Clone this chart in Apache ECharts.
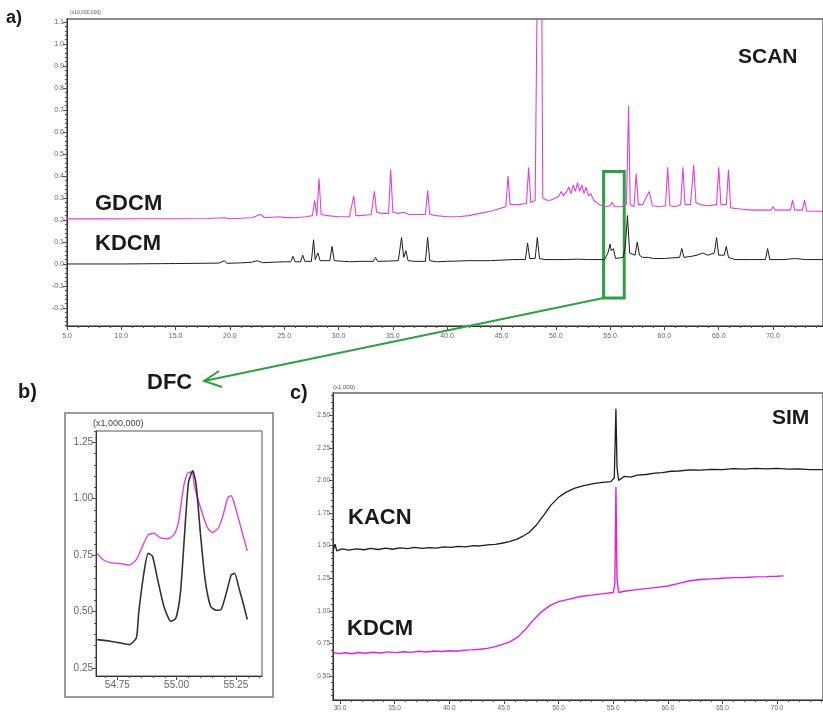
<!DOCTYPE html>
<html><head><meta charset="utf-8">
<script src="https://cdn.jsdelivr.net/npm/echarts@6/dist/echarts.min.js"></script>
<style>html,body{margin:0;padding:0;background:#fff}#c{width:823px;height:714px}</style>
</head><body><div id="c"></div>
<script>
// ---------- tick labels ----------
const aXTicks = [5,10,15,20,25,30,35,40,45,50,55,60,65,70];
const aYTicks = [-0.2,-0.1,0,0.1,0.2,0.3,0.4,0.5,0.6,0.7,0.8,0.9,1.0,1.1];
const bXTicks = [54.75,55.0,55.25];
const bYTicks = [0.25,0.5,0.75,1.0,1.25];
const cXTicks = [30,35,40,45,50,55,60,65,70];
const cYTicks = [0.5,0.75,1.0,1.25,1.5,1.75,2.0,2.25,2.5];

// ---------- panel a: SCAN (x10,000,000) ----------
const gdcmScan = [[5.0,0.205],[8,0.205],[12,0.206],[15,0.206],[18,0.207],[19.5,0.21],[20,0.206],[22,0.21],[22.8,0.225],[23.2,0.21],[24.5,0.215],[25,0.212],[26,0.21],[27,0.215],[27.6,0.22],[27.8,0.29],[28.0,0.22],[28.2,0.39],[28.4,0.225],[29,0.22],[30,0.215],[31.0,0.215],[31.4,0.31],[31.6,0.22],[32,0.22],[33.0,0.225],[33.3,0.33],[33.5,0.235],[34.0,0.23],[34.6,0.23],[34.8,0.43],[35.0,0.235],[35.5,0.23],[36,0.235],[36.5,0.225],[37,0.225],[38.0,0.225],[38.2,0.335],[38.4,0.225],[39,0.22],[40,0.215],[41,0.215],[42,0.22],[43,0.23],[44,0.24],[45,0.255],[45.4,0.26],[45.6,0.40],[45.8,0.27],[46.5,0.27],[47.3,0.275],[47.5,0.44],[47.7,0.28],[48.1,0.29],[48.3,1.3],[48.4,1.3],[48.5,1.3],[48.6,1.3],[48.7,1.3],[48.8,0.30],[49.2,0.29],[49.5,0.29],[50,0.3],[50.3,0.31],[50.5,0.33],[50.7,0.31],[51,0.33],[51.2,0.35],[51.4,0.32],[51.6,0.36],[51.8,0.33],[52,0.37],[52.2,0.33],[52.4,0.36],[52.6,0.32],[52.8,0.35],[53,0.31],[53.2,0.32],[53.5,0.29],[54,0.27],[54.5,0.26],[55,0.265],[55.2,0.28],[55.4,0.26],[56,0.26],[56.5,0.27],[56.7,0.72],[56.85,0.27],[57.2,0.26],[57.4,0.41],[57.6,0.27],[58,0.27],[58.6,0.33],[58.9,0.265],[59.5,0.26],[60.1,0.265],[60.3,0.44],[60.5,0.265],[61,0.26],[61.5,0.27],[61.7,0.44],[61.9,0.27],[62.4,0.27],[62.7,0.45],[62.9,0.28],[63.3,0.27],[64.0,0.265],[64.8,0.27],[65.0,0.44],[65.2,0.27],[65.7,0.27],[65.9,0.43],[66.1,0.255],[67,0.25],[68,0.245],[69,0.245],[69.8,0.245],[70,0.26],[70.2,0.245],[71,0.245],[71.6,0.245],[71.8,0.29],[72.0,0.245],[72.7,0.245],[72.9,0.29],[73.1,0.24],[74.6,0.24]];
const kdcmScan = [[5,0.0],[10,0.0],[15,0.002],[19,0.004],[19.5,0.015],[19.7,0.003],[21,0.005],[22,0.008],[22.5,0.015],[23,0.006],[24,0.008],[25,0.01],[25.6,0.01],[25.8,0.035],[26.0,0.01],[26.5,0.01],[26.7,0.04],[26.9,0.012],[27.5,0.012],[27.7,0.11],[27.85,0.02],[28.1,0.05],[28.3,0.015],[29.2,0.015],[29.4,0.08],[29.6,0.015],[30.5,0.012],[31,0.01],[32,0.012],[33.2,0.012],[33.4,0.03],[33.6,0.012],[34.5,0.013],[35.5,0.015],[35.8,0.12],[36.0,0.03],[36.2,0.06],[36.4,0.015],[37,0.012],[38.0,0.012],[38.2,0.12],[38.4,0.015],[39,0.01],[40,0.012],[42,0.015],[44,0.015],[46,0.02],[47.2,0.02],[47.4,0.095],[47.6,0.025],[48.1,0.025],[48.3,0.12],[48.5,0.025],[49,0.02],[50,0.02],[51,0.02],[52,0.022],[53,0.02],[54.5,0.02],[54.8,0.05],[55.0,0.09],[55.1,0.06],[55.3,0.07],[55.5,0.025],[56.2,0.03],[56.4,0.08],[56.6,0.22],[56.8,0.05],[57.3,0.04],[57.5,0.1],[57.7,0.04],[58,0.03],[58.5,0.03],[59,0.025],[60,0.025],[61.4,0.03],[61.6,0.07],[61.8,0.03],[62.5,0.035],[63,0.04],[63.5,0.05],[64,0.04],[64.6,0.05],[64.8,0.12],[65.0,0.04],[65.5,0.04],[65.7,0.08],[65.9,0.03],[66.5,0.02],[68,0.02],[69.3,0.02],[69.5,0.07],[69.7,0.02],[71,0.02],[72,0.025],[73,0.02],[74.6,0.02]];
const dfcBox = [[54.4,0.42],[56.3,-0.155]];

// ---------- panel b: DFC (x1,000,000) ----------
const gdcmDfc = [[54.665,0.758],[54.69,0.73],[54.72,0.717],[54.757,0.714],[54.80,0.706],[54.83,0.73],[54.856,0.79],[54.88,0.84],[54.905,0.847],[54.93,0.828],[54.96,0.823],[54.98,0.832],[54.997,0.857],[55.01,0.91],[55.03,1.057],[55.047,1.114],[55.065,1.117],[55.075,1.057],[55.09,0.998],[55.11,0.93],[55.13,0.872],[55.15,0.85],[55.177,0.872],[55.195,0.924],[55.216,1.005],[55.23,1.013],[55.25,0.954],[55.273,0.865],[55.298,0.769]];
const kdcmDfc = [[54.665,0.376],[54.72,0.369],[54.764,0.361],[54.80,0.354],[54.83,0.383],[54.84,0.494],[54.86,0.657],[54.88,0.758],[54.898,0.746],[54.92,0.642],[54.948,0.517],[54.976,0.457],[54.997,0.472],[55.016,0.583],[55.032,0.82],[55.05,1.072],[55.068,1.124],[55.082,1.065],[55.10,0.85],[55.12,0.643],[55.143,0.524],[55.167,0.506],[55.188,0.51],[55.209,0.581],[55.23,0.662],[55.244,0.67],[55.265,0.596],[55.284,0.524],[55.298,0.465]];

// ---------- panel c: SIM (x1,000) ----------
const kacnSim = [[29.4,1.47],[29.55,1.51],[29.7,1.46],[30.2,1.475],[30.8,1.465],[31.5,1.475],[32.2,1.468],[32.8,1.478],[33.5,1.47],[34.2,1.48],[34.8,1.472],[35.5,1.482],[36.2,1.476],[36.8,1.486],[37.5,1.479],[38.2,1.485],[38.8,1.48],[39.5,1.49],[40.2,1.486],[40.8,1.494],[41.5,1.49],[42.2,1.5],[42.8,1.497],[43.5,1.505],[44.2,1.51],[44.8,1.518],[45.5,1.53],[46.2,1.55],[46.8,1.575],[47.3,1.60],[48.0,1.66],[48.7,1.74],[49.3,1.81],[50.0,1.87],[50.7,1.91],[51.5,1.94],[52.3,1.96],[53.2,1.975],[54.0,1.985],[54.8,1.99],[55.1,2.02],[55.25,2.55],[55.35,2.1],[55.5,2.0],[56.0,2.03],[56.6,2.025],[57.2,2.04],[58.0,2.045],[58.8,2.055],[59.5,2.06],[60.3,2.07],[61.0,2.072],[62.0,2.08],[63.0,2.078],[64.0,2.085],[65.0,2.083],[66,2.09],[67,2.087],[68,2.092],[69,2.088],[70,2.092],[71,2.086],[72,2.088],[73,2.082],[74.2,2.083]];
const kdcmSim = [[29.4,0.68],[29.9,0.672],[30.5,0.678],[31.1,0.671],[31.7,0.68],[32.3,0.674],[33,0.682],[33.7,0.676],[34.4,0.685],[35.1,0.679],[35.8,0.686],[36.5,0.681],[37.2,0.69],[37.9,0.684],[38.6,0.692],[39.3,0.688],[40.0,0.694],[40.7,0.69],[41.4,0.698],[42,0.70],[42.8,0.705],[43.5,0.712],[44.2,0.725],[44.8,0.74],[45.5,0.76],[46.3,0.80],[47.0,0.86],[47.7,0.93],[48.4,0.99],[49.2,1.04],[50.0,1.07],[51,1.09],[52,1.11],[53,1.12],[54,1.13],[55.0,1.14],[55.15,1.2],[55.25,1.95],[55.35,1.25],[55.5,1.14],[56,1.15],[57,1.16],[58,1.17],[59,1.18],[60,1.19],[61,1.21],[62,1.23],[63,1.24],[64,1.245],[65,1.25],[66,1.254],[67,1.255],[68,1.26],[69,1.262],[70,1.265],[70.6,1.268]];

function steps(a, b, s) { const r = []; for (let v = a; v <= b + 1e-9; v += s) r.push(+v.toFixed(4)); return r; }

const FONT = 'Liberation Sans, Arial, sans-serif';

function axisPair(gridIndex, position, min, max, major, minorStep, fmt, fs, margin) {
  const majorAxis = {
    type: 'value', gridIndex, position, min, max,
    axisLine: { show: true, onZero: false, lineStyle: { color: '#333', width: 1 } },
    axisTick: { show: true, customValues: major, length: 4, lineStyle: { color: '#444' } },
    axisLabel: { show: true, customValues: major, formatter: fmt, fontSize: fs, color: '#666', margin: margin, fontFamily: FONT },
    splitLine: { show: false }
  };
  const minorAxis = {
    type: 'value', gridIndex, position, min, max,
    axisLine: { show: false, onZero: false },
    axisTick: { show: true, customValues: steps(Math.ceil(min / minorStep) * minorStep, max, minorStep), length: 2, lineStyle: { color: '#555' } },
    axisLabel: { show: false },
    splitLine: { show: false }
  };
  return [majorAxis, minorAxis];
}

const f1 = v => v.toFixed(1);
const f2 = v => v.toFixed(2);

const xAxes = [
  ...axisPair(0, 'bottom', 5, 74.6, aXTicks, 1, f1, 7, 7),
  ...axisPair(1, 'bottom', 54.66, 55.36, bXTicks, 0.05, f2, 10, 4),
  ...axisPair(2, 'bottom', 29.36, 74.2, cXTicks, 1, f1, 6.5, 5)
];
const yAxes = [
  ...axisPair(0, 'left', -0.282, 1.114, aYTicks, 0.02, f1, 7, 3),
  ...axisPair(1, 'left', 0.215, 1.30, bYTicks, 0.05, f2, 10, 3),
  ...axisPair(2, 'left', 0.316, 2.67, cYTicks, 0.05, f2, 6.5, 3)
];

const PINK = '#e040e0';
const BLACK = '#1e1e1e';

const chart = echarts.init(document.getElementById('c'), null, { renderer: 'canvas' });
const option = {
  animation: false,
  backgroundColor: '#fff',
  grid: [
    { left: 67, top: 19, width: 760, height: 307, show: true, borderColor: '#666', borderWidth: 1.5, containLabel: false },
    { left: 96, top: 431, width: 166, height: 245, show: true, borderColor: '#555', borderWidth: 1, containLabel: false },
    { left: 333, top: 393, width: 495, height: 307, show: true, borderColor: '#666', borderWidth: 1.5, containLabel: false }
  ],
  xAxis: xAxes,
  yAxis: yAxes,
  series: [
    { name: 'GDCM', type: 'line', xAxisIndex: 0, yAxisIndex: 0, data: gdcmScan, showSymbol: false, lineStyle: { color: PINK, width: 1.1 }, clip: true,
      markArea: { silent: true, itemStyle: { color: 'rgba(0,0,0,0)', borderColor: '#2ea043', borderWidth: 3 },
        data: [[{ coord: dfcBox[0] }, { coord: dfcBox[1] }]] } },
    { name: 'KDCM', type: 'line', xAxisIndex: 0, yAxisIndex: 0, data: kdcmScan, showSymbol: false, lineStyle: { color: BLACK, width: 1 }, clip: true },
    { name: 'GDCM-DFC', type: 'line', xAxisIndex: 2, yAxisIndex: 2, data: gdcmDfc, showSymbol: false, smooth: 0.2, lineStyle: { color: PINK, width: 1.4 } },
    { name: 'KDCM-DFC', type: 'line', xAxisIndex: 2, yAxisIndex: 2, data: kdcmDfc, showSymbol: false, smooth: 0.2, lineStyle: { color: '#333', width: 1.6 } },
    { name: 'KACN', type: 'line', xAxisIndex: 4, yAxisIndex: 4, data: kacnSim, showSymbol: false, lineStyle: { color: BLACK, width: 1.3 } },
    { name: 'KDCM-SIM', type: 'line', xAxisIndex: 4, yAxisIndex: 4, data: kdcmSim, showSymbol: false, lineStyle: { color: '#e020e0', width: 1.4 } }
  ]
};
chart.setOption(option);

// annotation arrow from the DFC box to the DFC label
const start = chart.convertToPixel({ xAxisIndex: 0, yAxisIndex: 0 }, [dfcBox[0][0], dfcBox[1][1]]);
const tip = [204, 381];
const GREEN = '#2ea043';
const txt = (x, y, s, size, extra) => Object.assign({ type: 'text', x, y, style: { text: s, font: 'bold ' + size + 'px ' + FONT, fill: '#1a1a1a', textVerticalAlign: 'middle' }, z: 10 }, extra || {});
chart.setOption({
  graphic: [
    { type: 'rect', shape: { x: 65, y: 413, width: 208, height: 284 }, style: { fill: 'none', stroke: '#9a9a9a', lineWidth: 2 }, z: -1 },
    { type: 'line', shape: { x1: start[0], y1: start[1], x2: tip[0], y2: tip[1] }, style: { stroke: GREEN, lineWidth: 2 }, z: 10 },
    { type: 'polyline', shape: { points: [[219, 371], tip, [222, 387]] }, style: { stroke: GREEN, lineWidth: 2, fill: 'none' }, z: 10 },
    txt(6, 18, 'a)', 18),
    txt(18, 392, 'b)', 20),
    txt(290, 393, 'c)', 20),
    txt(738, 57, 'SCAN', 21),
    txt(95, 204, 'GDCM', 22),
    txt(95, 244, 'KDCM', 22),
    txt(147, 383, 'DFC', 22),
    txt(772, 418, 'SIM', 21),
    txt(348, 518, 'KACN', 22),
    txt(347, 629, 'KDCM', 22),
    { type: 'text', x: 70, y: 13, style: { text: '(x10,000,000)', font: '5px ' + FONT, fill: '#555', textVerticalAlign: 'middle' } },
    { type: 'text', x: 93, y: 424, style: { text: '(x1,000,000)', font: '9px ' + FONT, fill: '#444', textVerticalAlign: 'middle' } },
    { type: 'text', x: 333, y: 387, style: { text: '(x1,000)', font: '6px ' + FONT, fill: '#555', textVerticalAlign: 'middle' } }
  ]
});
</script>
</body></html>
